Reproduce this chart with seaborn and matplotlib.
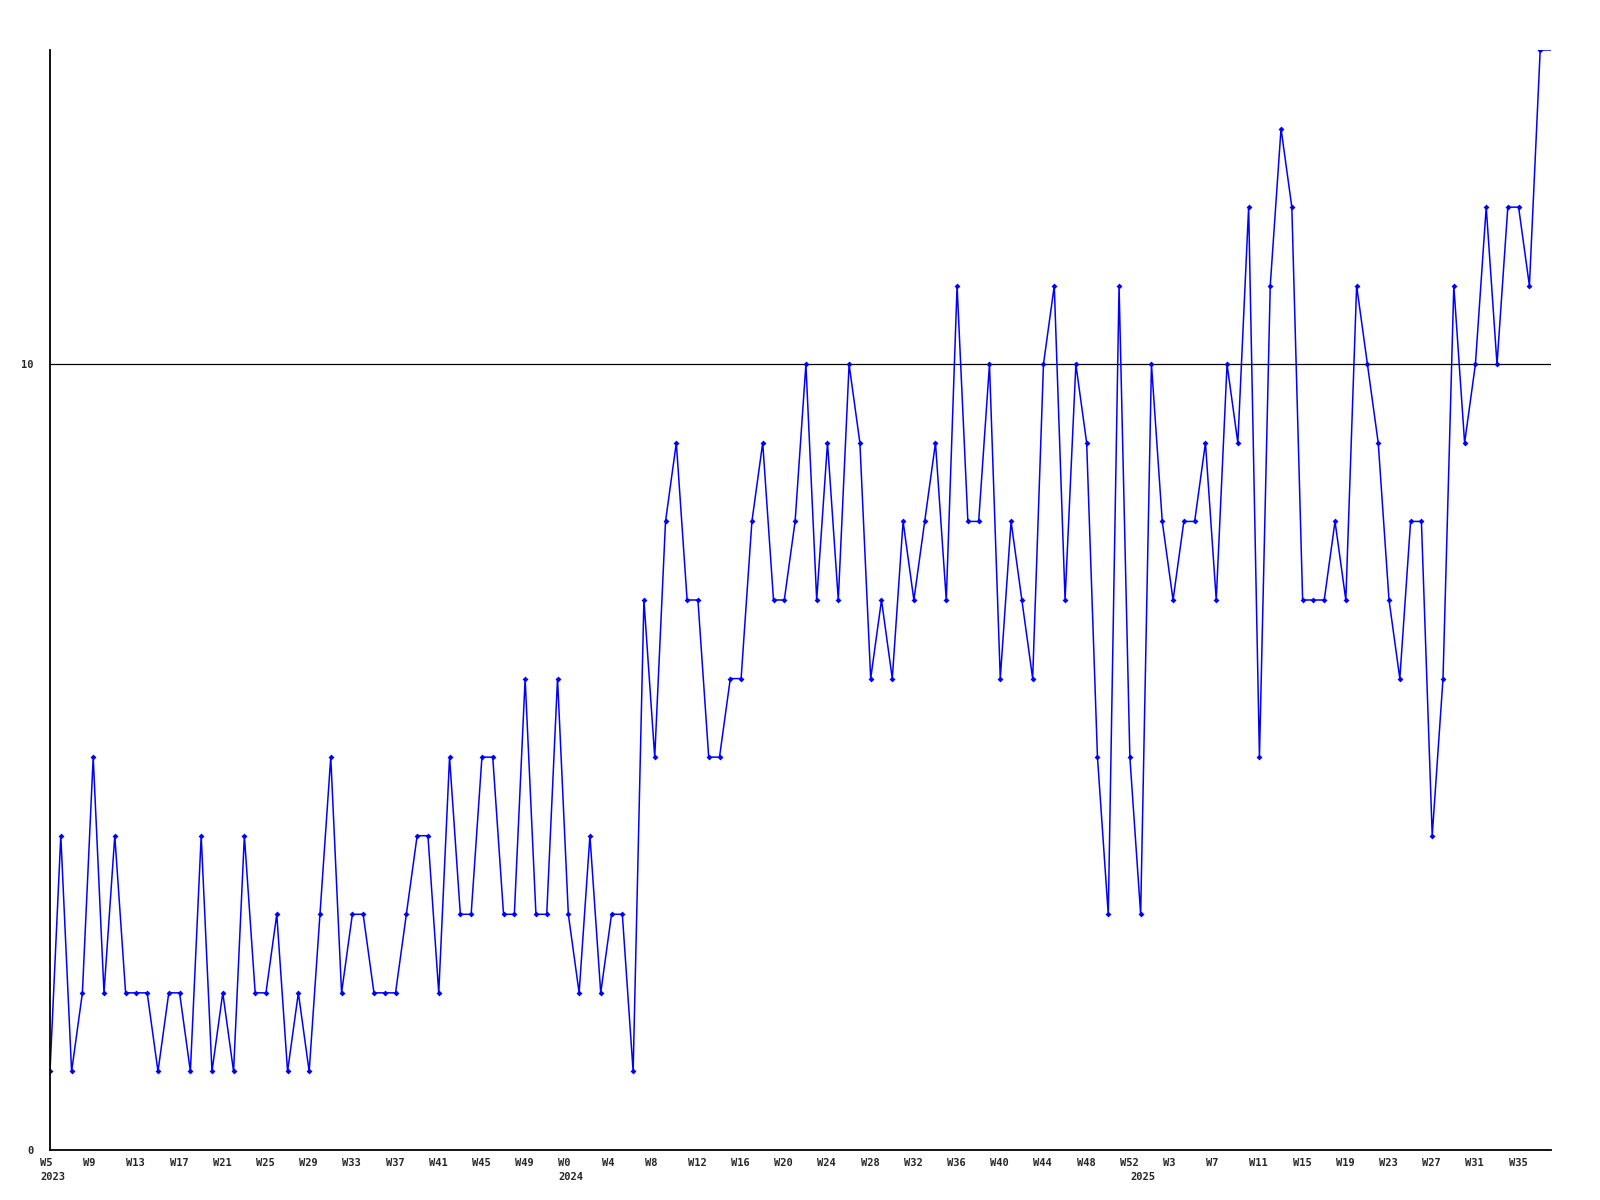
import pandas as pd
import matplotlib
matplotlib.use("Agg")
import matplotlib.pyplot as plt
import matplotlib.transforms as mtransforms
import seaborn as sns

# weekly counts
weeks_2023 = list(range(5, 53))
weeks_2024 = list(range(0, 53))
weeks_2025 = list(range(0, 38))

values_2023 = [1, 4, 1, 2, 5, 2, 4, 2, 2, 2, 1, 2, 2, 1, 4, 1, 2, 1, 4, 2, 2, 3, 1, 2, 1, 3,
               5, 2, 3, 3, 2, 2, 2, 3, 4, 4, 2, 5, 3, 3, 5, 5, 3, 3, 6, 3, 3, 6]
values_2024 = [3, 2, 4, 2, 3, 3, 1, 7, 5, 8, 9, 7, 7, 5, 5, 6, 6, 8, 9, 7, 7, 8, 10, 7, 9, 7, 10, 9,
               6, 7, 6, 8, 7, 8, 9, 7, 11, 8, 8, 10, 6, 8, 7, 6, 10, 11, 7, 10, 9, 5, 3, 11, 5]
values_2025 = [3, 10, 8, 7, 8, 8, 9, 7, 10, 9, 12, 5, 11, 13, 12, 7, 7, 7, 8, 7, 11, 10, 9, 7, 6,
               8, 8, 4, 6, 11, 9, 10, 12, 10, 12, 12, 11, 14]

y_ticks = [0, 10]
y_max = 14

# build one table
rows = []
for year, weeks, vals in [(2023, weeks_2023, values_2023),
                          (2024, weeks_2024, values_2024),
                          (2025, weeks_2025, values_2025)]:
    for w, v in zip(weeks, vals):
        rows.append({"year": year, "week": w, "value": v})
df = pd.DataFrame(rows)
df["pos"] = range(len(df))
df["label"] = "W" + df["week"].astype(str)

sns.set_style("white")
plt.rcParams["font.family"] = ["DejaVu Sans Mono", "DejaVu Sans"]

fig = plt.figure(figsize=(16, 12), dpi=100)
ax = fig.add_axes([50 / 1600, 50 / 1200, 1501 / 1600, 1100 / 1200])

sns.lineplot(data=df, x="pos", y="value", color="#0000ff", lw=1.1,
             marker="D", markersize=3, markeredgewidth=0, ax=ax)

ax.set_xlim(0, len(df))
ax.set_ylim(0, y_max)
ax.axhline(10, color="black", lw=0.9, zorder=1)

# current (unfinished) week: last value carried to the edge
last = df.iloc[-1]
ax.hlines(last["value"], last["pos"], ax.get_xlim()[1], color="#0000ff", lw=1.1)

for s in ["top", "right"]:
    ax.spines[s].set_visible(False)
for s in ["left", "bottom"]:
    ax.spines[s].set_color("black")
    ax.spines[s].set_linewidth(1.3)

ax.set_xlabel("")
ax.set_ylabel("")

# y ticks
ax.set_yticks(y_ticks)
ax.set_yticklabels([str(t) for t in y_ticks], fontsize=7.5, fontweight="bold")
ax.tick_params(axis="y", length=0, pad=12)

# x ticks every 4 weeks, left aligned a bit before the point
tick_df = df.iloc[::4]
ax.set_xticks(tick_df["pos"])
ax.set_xticklabels(tick_df["label"], fontsize=7.5, fontweight="bold", ha="left")
ax.tick_params(axis="x", length=0, pad=6)
shift = mtransforms.ScaledTranslation(-10 / 100, 0, fig.dpi_scale_trans)
for lab in ax.get_xticklabels():
    lab.set_transform(lab.get_transform() + shift)

# year labels under first week of each year
trans = mtransforms.blended_transform_factory(ax.transData, ax.transAxes) + \
    mtransforms.ScaledTranslation(-10 / 100, -27 / 100, fig.dpi_scale_trans)
for year in [2023, 2024, 2025]:
    p = df.loc[df["year"] == year, "pos"].iloc[0]
    ax.text(p, 0, str(year), transform=trans, ha="left", va="center",
            fontsize=7.5, fontweight="bold")

fig.savefig("out.png", dpi=100)
